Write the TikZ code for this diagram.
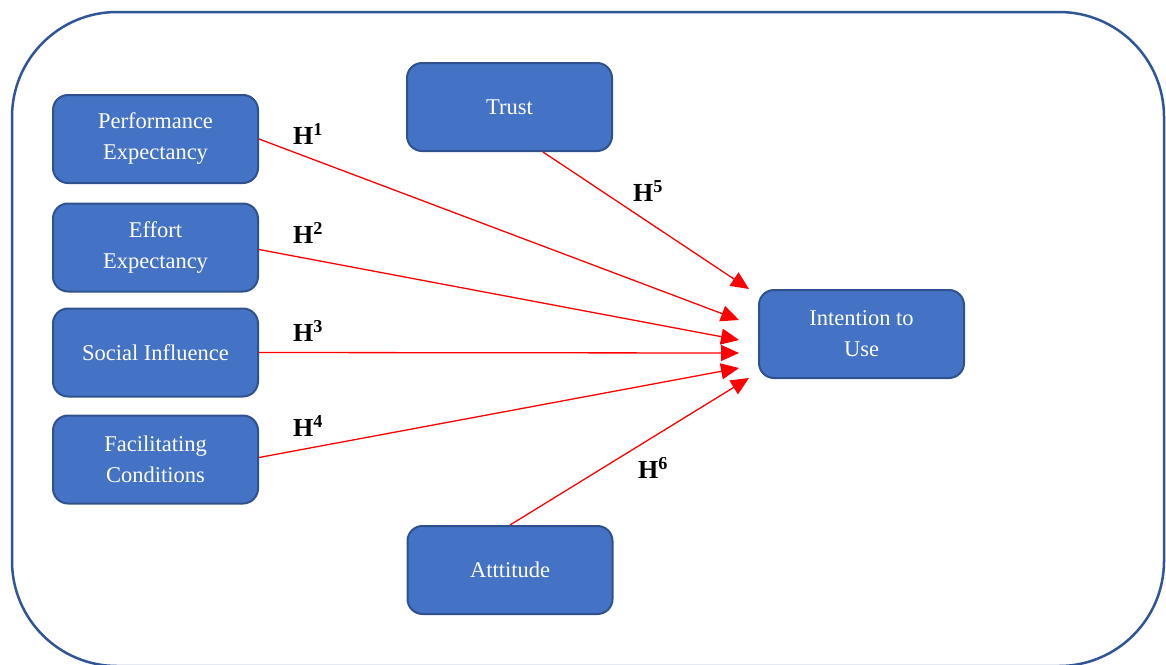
\documentclass[tikz,border=0pt]{standalone}
\usepackage{fontspec}
\setmainfont{Liberation Serif}
\usepackage{xcolor}
\usetikzlibrary{arrows.meta, positioning}
\definecolor{boxfill}{HTML}{4472C4}
\definecolor{boxline}{HTML}{2F528F}
\definecolor{frameline}{HTML}{2F5597}

\begin{document}
\begin{tikzpicture}[
    x=1pt, y=-1pt,
    construct/.style={rectangle, rounded corners=15pt, draw=boxline, fill=boxfill, line width=2pt, minimum width=205pt, minimum height=88pt, text=white, font=\fontsize{22.5}{31}\selectfont, align=center},
    hyp/.style={font=\fontsize{26}{30}\selectfont\bfseries},
    arrow/.style={-{Triangle[length=18pt, width=16pt]}, red, line width=1.3pt}
]
\useasboundingbox (0,0) rectangle (1166,664);

% Outer frame
\draw[frameline, line width=2.5pt, rounded corners=105pt] (12,12) rectangle (1164,666);

% Constructs
\node[construct] (pe) at (155.5,139) {Performance\\Expectancy};
\node[construct] (ee) at (155.5,247.5) {Effort\\Expectancy};
\node[construct] (si) at (155.5,352.5) {Social Influence};
\node[construct] (fc) at (155.5,459.5) {Facilitating\\Conditions};
\node[construct] (tr) at (509.5,107) {Trust};
\node[construct] (at) at (510,570) {Atttitude};
\node[construct] (iu) at (861.5,334) {Intention to\\Use};

% Arrow end points in front of the target
\coordinate (t1) at (739,320);
\coordinate (t2) at (739,340);
\coordinate (t3) at (739,353);
\coordinate (t4) at (739,368);
\coordinate (t5) at (749,289);
\coordinate (t6) at (749,378);

% Hypotheses
\draw[arrow] (pe.east) -- (t1);
\draw[arrow] ([yshift=-2pt]ee.east) -- (t2);
\draw[arrow] (si.east) -- (t3);
\draw[arrow] ([yshift=2pt]fc.east) -- (t4);
\draw[arrow] ([xshift=33.5pt]tr.south) -- (t5);
\draw[arrow] (at.north) -- (t6);

% Labels
\node[hyp] (h1) at (308,134) {H\textsuperscript{1}};
\node[hyp] (h2) at (308,233) {H\textsuperscript{2}};
\node[hyp] (h3) at (308,331) {H\textsuperscript{3}};
\node[hyp] (h4) at (308,426) {H\textsuperscript{4}};
\node[hyp] (h5) at (648,191) {H\textsuperscript{5}};
\node[hyp] (h6) at (653,468) {H\textsuperscript{6}};
\end{tikzpicture}
\end{document}
